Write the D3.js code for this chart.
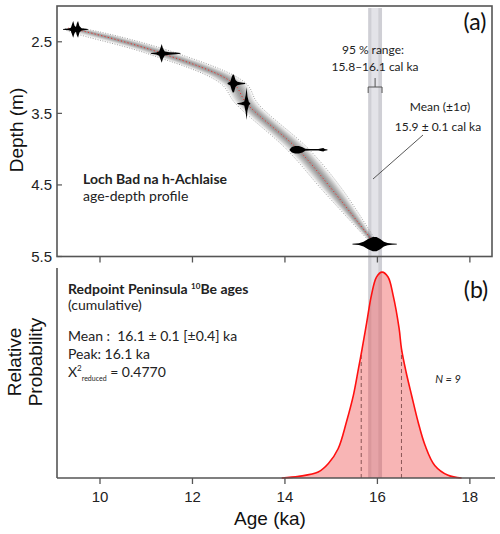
<!DOCTYPE html>
<html><head><meta charset="utf-8">
<script src="https://cdn.jsdelivr.net/npm/d3@7"></script>
<style>body{margin:0;background:#fff}svg{display:block}text{white-space:pre}</style>
</head><body><svg id="c" width="500" height="534"></svg>
<script>
// ---------- data ----------
const ageTicks = [10, 12, 14, 16, 18];
const depthTicks = [2.5, 3.5, 4.5, 5.5];

// age-depth model (centre line and 95% half-width, ka)
const modelDepth = [2.31, 2.33, 2.66, 3.08, 3.36, 4.01, 4.58, 5.33];
const modelAge   = [9.31, 9.50, 11.33, 12.88, 13.17, 14.29, 15.04, 15.95];
const modelHalf  = [0.05, 0.22, 0.3, 0.25, 0.22, 0.22, 0.2, 0.06];

// dated samples: depth and calibrated age distributions
const sampleDepth = [2.326, 2.663, 3.083, 3.364, 4.009, 5.327];
const sampleAges = [
  [9.20, 9.32, 9.37, 9.395, 9.42, 9.45, 9.48, 9.50, 9.525, 9.555, 9.60, 9.74],
  [11.10, 11.22, 11.28, 11.31, 11.335, 11.36, 11.40, 11.50, 11.65, 11.74],
  [12.76, 12.82, 12.85, 12.875, 12.90, 12.93, 12.97, 13.05, 13.14],
  [12.97, 13.06, 13.12, 13.15, 13.17, 13.19, 13.22, 13.25],
  [14.10, 14.15, 14.22, 14.30, 14.38, 14.44, 14.55, 14.72, 14.80, 14.83, 14.86, 14.92],
  [15.46, 15.60, 15.70, 15.80, 15.90, 15.98, 16.06, 16.14, 16.22, 16.32, 16.42]
];
const sampleProb = [
  [0, 0.03, 0.08, 0.3, 0.5, 0.2, 0.12, 0.35, 0.5, 0.18, 0.05, 0],
  [0, 0.04, 0.12, 0.35, 0.56, 0.3, 0.1, 0.05, 0.03, 0],
  [0, 0.1, 0.4, 0.56, 0.5, 0.2, 0.08, 0.04, 0],
  [0, 0.04, 0.1, 0.5, 1.0, 0.4, 0.08, 0],
  [0, 0.15, 0.21, 0.21, 0.14, 0.04, 0.025, 0.025, 0.07, 0.08, 0.03, 0],
  [0, 0.03, 0.12, 0.3, 0.42, 0.42, 0.3, 0.12, 0.04, 0.02, 0]
];

// modelled basal age band
const range95 = [15.8, 16.1];
const rangeInner = [15.87, 16.02];

// Redpoint Peninsula 10Be cumulative probability
const beAge  = [13.93, 14.30, 14.72, 14.94, 15.15, 15.33, 15.48, 15.59, 15.67, 15.77, 15.87, 15.98, 16.10,
                16.23, 16.34, 16.47, 16.52, 16.62, 16.74, 16.88, 17.03, 17.24, 17.53, 17.82];
const beProb = [0, 0.008, 0.029, 0.07, 0.142, 0.272, 0.401, 0.531, 0.628, 0.757, 0.887, 0.976, 1.0,
                0.976, 0.887, 0.725, 0.628, 0.515, 0.401, 0.272, 0.159, 0.061, 0.013, 0];
const beSigmaAges = [15.65, 16.52];

// ---------- layout ----------
const svg = d3.select("#c");
const axisFont = "'Liberation Sans', Arial, sans-serif";
const noteFont = "Lato, 'Open Sans', sans-serif";
const axisCol = "#555";

const x = d3.scaleLinear().domain([9.07, 18.5]).range([57, 493]);
const yD = d3.scaleLinear().domain([2.0, 5.5]).range([6, 256.5]);
const yP = d3.scaleLinear().domain([0, 1.02]).range([478, 268]);
const dens = d3.scaleLinear().domain([0, 1]).range([0, 16]);

// band (behind everything)
svg.append("rect").attr("x", x(range95[0])).attr("width", x(range95[1]) - x(range95[0]))
  .attr("y", 8).attr("height", yP(0) - 8).attr("fill", "#cfcfd5");
svg.append("rect").attr("x", x(rangeInner[0])).attr("width", x(rangeInner[1]) - x(rangeInner[0]))
  .attr("y", 8).attr("height", yP(0) - 8).attr("fill", "#e3e3e8");

// ----- panel a -----
const model = modelDepth.map((d, i) => ({depth: d, age: modelAge[i], hw: modelHalf[i]}));
const levels = [1, 0.85, 0.7, 0.55, 0.4, 0.25];
levels.forEach(k => {
  svg.append("path").datum(model)
    .attr("d", d3.area().curve(d3.curveCatmullRom)
      .y(d => yD(d.depth)).x0(d => x(d.age - d.hw * k)).x1(d => x(d.age + d.hw * k)))
    .attr("fill", "#000").attr("fill-opacity", 0.075);
});
[-1, 1].forEach(s => {
  svg.append("path").datum(model)
    .attr("d", d3.line().curve(d3.curveCatmullRom).y(d => yD(d.depth)).x(d => x(d.age + s * d.hw * 1.1)))
    .attr("fill", "none").attr("stroke", "#888").attr("stroke-width", 0.8).attr("stroke-dasharray", "1,1.5");
});
svg.append("path").datum(model)
  .attr("d", d3.line().curve(d3.curveCatmullRom).y(d => yD(d.depth)).x(d => x(d.age)))
  .attr("fill", "none").attr("stroke", "#e8302c").attr("stroke-width", 1).attr("stroke-dasharray", "1.2,2.2");

sampleDepth.forEach((dp, i) => {
  const pts = sampleAges[i].map((a, j) => ({a, p: sampleProb[i][j]}));
  svg.append("path").datum(pts)
    .attr("d", d3.area().x(d => x(d.a)).y0(d => yD(dp) - dens(d.p) - 0.4).y1(d => yD(dp) + dens(d.p) + 0.4))
    .attr("fill", "#000");
});

// frame
svg.append("rect").attr("x", 57).attr("y", 6).attr("width", 492 - 57).attr("height", yD(5.5) - 6)
  .attr("fill", "none").attr("stroke", axisCol).attr("stroke-width", 1.6);

// x ticks under panel a
svg.selectAll(".ta").data(ageTicks).join("line")
  .attr("x1", d => x(d)).attr("x2", d => x(d)).attr("y1", yD(5.5)).attr("y2", yD(5.5) + 6)
  .attr("stroke", axisCol).attr("stroke-width", 1.3);

// depth axis
svg.selectAll(".td").data(depthTicks).join("line")
  .attr("x1", 57).attr("x2", 62).attr("y1", d => yD(d)).attr("y2", d => yD(d))
  .attr("stroke", axisCol).attr("stroke-width", 1.2);
svg.selectAll(".tdl").data(depthTicks).join("text")
  .attr("x", 52).attr("y", d => yD(d)).attr("dy", "0.36em").attr("text-anchor", "end")
  .attr("font-family", axisFont).attr("font-size", 15).attr("fill", "#222")
  .text(d => d3.format(".1f")(d));
svg.append("text").attr("transform", "translate(23,130) rotate(-90)").attr("text-anchor", "middle")
  .attr("font-family", axisFont).attr("font-size", 19).attr("fill", "#111").text("Depth (m)");

svg.append("text").attr("x", 475).attr("y", 30).attr("text-anchor", "middle")
  .attr("font-family", noteFont).attr("font-size", 23).attr("fill", "#111").text("(a)");

const note = (t, xx, yy, opts = {}) => svg.append("text").attr("x", xx).attr("y", yy)
  .attr("text-anchor", opts.anchor || "start").attr("font-family", noteFont)
  .attr("font-size", opts.size || 12).attr("font-weight", opts.weight || "normal")
  .attr("font-style", opts.style || "normal").attr("fill", "#222").text(t);

note("Loch Bad na h-Achlaise", 83, 184, {size: 14, weight: "bold"});
note("age-depth profile", 83, 201, {size: 14});
note("95 % range:", 373, 54, {anchor: "middle", size: 12});
note("15.8\u201316.1 cal ka", 375, 71, {anchor: "middle", size: 12});
note("Mean (\u00b11\u03c3)", 440, 111, {anchor: "middle", size: 12});
note("15.9 \u00b1 0.1 cal ka", 438, 131, {anchor: "middle", size: 12});

// bracket and leader
const bx0 = x(range95[0]), bx1 = x(range95[1]), bmid = (bx0 + bx1) / 2;
svg.append("path").attr("d", `M${bx0},93V87H${bx1}V93M${bmid},87V78`)
  .attr("fill", "none").attr("stroke", "#555").attr("stroke-width", 1);
svg.append("line").attr("x1", 423).attr("y1", 135).attr("x2", 373).attr("y2", 179)
  .attr("stroke", "#444").attr("stroke-width", 0.9);

// ----- panel b -----
const be = beAge.map((a, i) => ({a, p: beProb[i]}));
svg.append("path").datum(be)
  .attr("d", d3.area().curve(d3.curveCatmullRom).x(d => x(d.a)).y0(yP(0)).y1(d => yP(d.p)))
  .attr("fill", "rgb(236,60,60)").attr("fill-opacity", 0.38);
const interp = a => {
  const i = d3.bisector(d => d.a).right(be, a);
  const d0 = be[i - 1], d1 = be[i];
  return d0.p + (d1.p - d0.p) * (a - d0.a) / (d1.a - d0.a);
};
svg.selectAll(".sd").data(beSigmaAges).join("line")
  .attr("x1", d => x(d)).attr("x2", d => x(d)).attr("y1", yP(0)).attr("y2", d => yP(interp(d)))
  .attr("stroke", "#8a5656").attr("stroke-width", 1).attr("stroke-dasharray", "4,3");
svg.append("path").datum(be)
  .attr("d", d3.line().curve(d3.curveCatmullRom).x(d => x(d.a)).y(d => yP(d.p)))
  .attr("fill", "none").attr("stroke", "#ff1010").attr("stroke-width", 1.6);

// axes b
svg.append("line").attr("x1", 57).attr("x2", 57).attr("y1", 268).attr("y2", yP(0))
  .attr("stroke", axisCol).attr("stroke-width", 1.6);
svg.append("line").attr("x1", 57).attr("x2", 495).attr("y1", yP(0)).attr("y2", yP(0))
  .attr("stroke", axisCol).attr("stroke-width", 1.6);
svg.selectAll(".tb").data(ageTicks).join("line")
  .attr("x1", d => x(d)).attr("x2", d => x(d)).attr("y1", yP(0)).attr("y2", yP(0) + 6)
  .attr("stroke", axisCol).attr("stroke-width", 1.3);
svg.selectAll(".tbl").data(ageTicks).join("text")
  .attr("x", d => x(d)).attr("y", 502).attr("text-anchor", "middle")
  .attr("font-family", axisFont).attr("font-size", 15).attr("fill", "#222").text(d => d);
svg.append("text").attr("x", 270).attr("y", 525).attr("text-anchor", "middle")
  .attr("font-family", axisFont).attr("font-size", 19).attr("fill", "#111").text("Age (ka)");
const rp = svg.append("text").attr("transform", "translate(0,362) rotate(-90)").attr("text-anchor", "middle")
  .attr("font-family", axisFont).attr("font-size", 19).attr("fill", "#111");
rp.append("tspan").attr("x", 0).attr("y", 21).text("Relative");
rp.append("tspan").attr("x", 0).attr("y", 42).text("Probability");

svg.append("text").attr("x", 476).attr("y", 298).attr("text-anchor", "middle")
  .attr("font-family", noteFont).attr("font-size", 23).attr("fill", "#111").text("(b)");

const t1 = note("Redpoint Peninsula ", 68, 294, {size: 14, weight: "bold"});
t1.append("tspan").attr("font-size", 8).attr("dy", -5).text("10");
t1.append("tspan").attr("dy", 5).text("Be ages");
note("(cumulative)", 68, 310, {size: 14});
note("Mean :  16.1 \u00b1 0.1 [\u00b10.4] ka", 68, 341, {size: 14});
note("Peak: 16.1 ka", 68, 359, {size: 14});
const t2 = note("X", 68, 377, {size: 14});
t2.append("tspan").attr("font-size", 8).attr("dy", -6).text("2");
t2.append("tspan").attr("font-size", 7).attr("dy", 10).text("reduced");
t2.append("tspan").attr("dy", -4).text(" = 0.4770");
note("N = 9", 448, 383, {anchor: "middle", size: 11, style: "italic"});
</script></body></html>
